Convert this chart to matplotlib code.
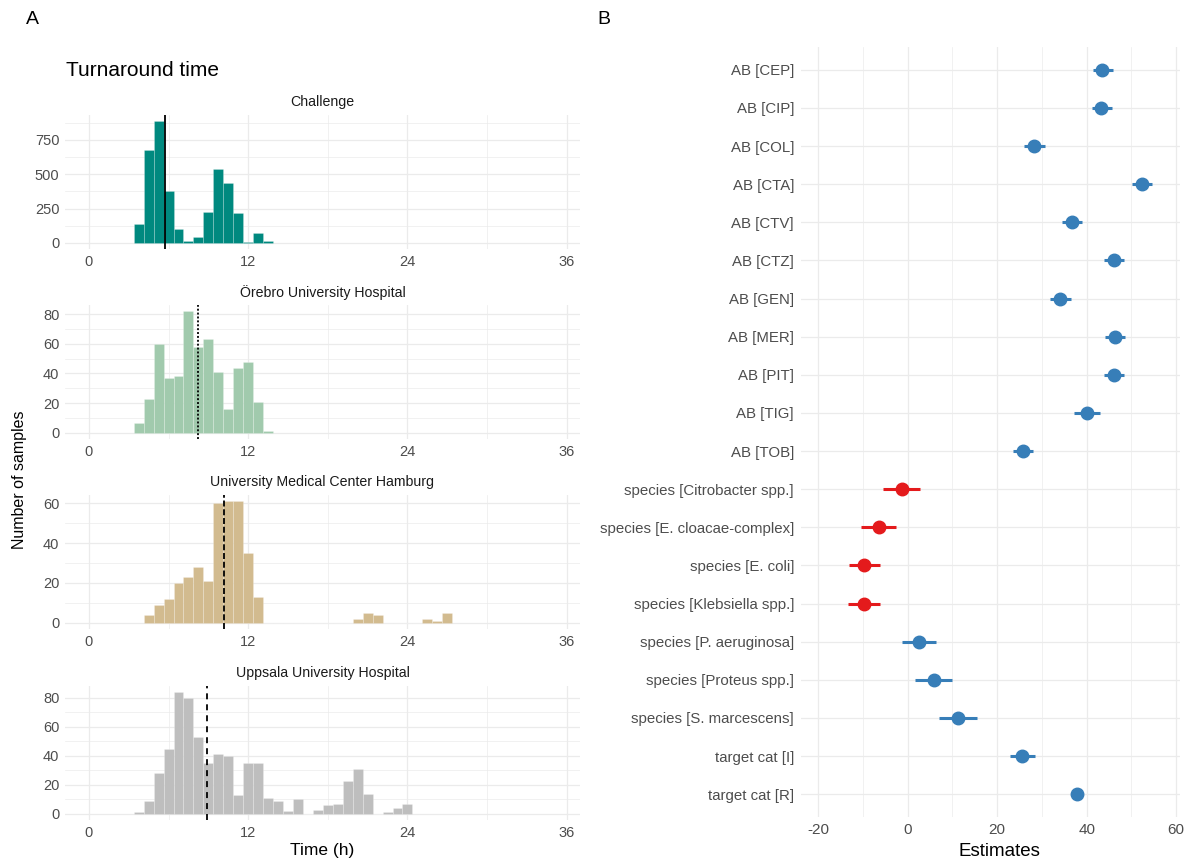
import numpy as np
import matplotlib
matplotlib.use('Agg')
import matplotlib.pyplot as plt

plt.rcParams['font.family'] = ['Liberation Sans', 'DejaVu Sans']
plt.rcParams['lines.scale_dashes'] = False
plt.rcParams['axes.unicode_minus'] = False

# ------------------------------------------------------- Data (panel A)
BIN_W = 0.75
BIN_ORIGIN = 0.375   # bins are centred on multiples of 0.75 h

sites = ['Challenge', 'Örebro University Hospital',
         'University Medical Center Hamburg', 'Uppsala University Hospital']

# first bin index (edge = origin + k * width) and counts per bin
challenge_first = 4
challenge_counts = [135, 674, 887, 375, 98, 15, 44, 223, 539, 439, 221, 7, 69, 12]

orebro_first = 4
orebro_counts = [7, 23, 60, 37, 38, 82, 58, 63, 41, 16, 44, 48, 21, 1]

hamburg_first = 5
hamburg_counts = [4, 9, 12, 20, 23, 28, 21, 60, 61, 61, 35, 13,
                  0, 0, 0, 0, 0, 0, 0, 0, 0, 2, 5, 4,
                  0, 0, 0, 0, 2, 1, 5]

uppsala_first = 4
uppsala_counts = [1, 9, 28, 45, 84, 80, 53, 35, 41, 40, 13, 35, 35, 11, 9, 2, 10,
                  0, 3, 6, 7, 23, 31, 14, 0, 1, 4, 7]

# median turnaround lines
medians = [5.76, 8.23, 10.19, 8.9]

# ------------------------------------------------------- Data (panel B)
terms = ['AB [CEP]', 'AB [CIP]', 'AB [COL]', 'AB [CTA]', 'AB [CTV]', 'AB [CTZ]',
         'AB [GEN]', 'AB [MER]', 'AB [PIT]', 'AB [TIG]', 'AB [TOB]',
         'species [Citrobacter spp.]', 'species [E. cloacae-complex]',
         'species [E. coli]', 'species [Klebsiella spp.]',
         'species [P. aeruginosa]', 'species [Proteus spp.]',
         'species [S. marcescens]', 'target cat [I]', 'target cat [R]']
estimates = [43.5, 43.3, 28.3, 52.3, 36.7, 46.2, 34.1, 46.3, 46.1, 40.0, 25.8,
             -1.3, -6.5, -9.7, -9.8, 2.6, 5.8, 11.3, 25.5, 37.9]
ci_low = [41.4, 41.2, 26.0, 50.1, 34.5, 43.9, 31.8, 44.1, 43.9, 37.1, 23.6,
          -5.6, -10.4, -13.1, -13.3, -1.2, 1.7, 7.1, 22.8, 36.9]
ci_high = [45.9, 45.6, 30.6, 54.6, 38.9, 48.4, 36.4, 48.6, 48.4, 43.0, 28.0,
           2.8, -2.6, -6.2, -6.3, 6.4, 9.9, 15.5, 28.4, 38.9]

# ------------------------------------------------------- Styles
W, H = 1193, 860
GRID = '#EBEBEB'
TICK_COL = '#4D4D4D'
BLUE = '#377EB8'
RED = '#E41A1C'

site_style = [
    {'first': challenge_first, 'counts': challenge_counts, 'color': '#00897F',
     'ls': '-', 'major': [0, 250, 500, 750], 'minor': [125, 375, 625, 875]},
    {'first': orebro_first, 'counts': orebro_counts, 'color': '#A1CAAD',
     'ls': (0, (1.4, 1.4)), 'major': [0, 20, 40, 60, 80], 'minor': [10, 30, 50, 70]},
    {'first': hamburg_first, 'counts': hamburg_counts, 'color': '#D2BB8F',
     'ls': (0, (4.3, 2.0)), 'major': [0, 20, 40, 60], 'minor': [10, 30, 50]},
    {'first': uppsala_first, 'counts': uppsala_counts, 'color': '#BEBEBE',
     'ls': (0, (4.3, 3.6)), 'major': [0, 20, 40, 60, 80], 'minor': [10, 30, 50, 70]},
]


def px_axes(fig, left, top, right, bottom):
    return fig.add_axes([left / W, 1 - bottom / H, (right - left) / W, (bottom - top) / H])


def minimal(ax):
    for s in ax.spines.values():
        s.set_visible(False)
    ax.set_axisbelow(True)
    ax.grid(True, which='major', color=GRID, lw=0.9)
    ax.grid(True, which='minor', color=GRID, lw=0.5)
    ax.tick_params(which='both', length=0, colors=TICK_COL)


fig = plt.figure(figsize=(W / 100, H / 100), dpi=100)

# ------------------------------------------------------- Panel A
tops = [115, 305, 495, 686]
for name, st, top, med in zip(sites, site_style, tops, medians):
    ax = px_axes(fig, 65, top, 580, top + 134)
    minimal(ax)
    counts = np.array(st['counts'])
    edges = BIN_ORIGIN + BIN_W * (st['first'] + np.arange(len(counts)))
    ax.bar(edges, counts, width=BIN_W, align='edge', color=st['color'],
           edgecolor=(1, 1, 1, 0.35), linewidth=0.4)
    ax.axvline(med, color='black', lw=1.3, ls=st['ls'])
    ymax = counts.max()
    ax.set_ylim(-0.05 * ymax, 1.05 * ymax)
    ax.set_xlim(-1.8, 37.0)
    ax.set_xticks([0, 12, 24, 36])
    ax.set_xticks([6, 18, 30], minor=True)
    ax.set_yticks(st['major'])
    ax.set_yticks(st['minor'], minor=True)
    ax.tick_params(labelsize=10.5, pad=4)
    ax.text(0.5, 1.095, name, transform=ax.transAxes, ha='center', va='center',
            fontsize=10.2, color='#1A1A1A')

fig.text(32 / W, 1 - 20 / H, 'A', fontsize=14, ha='center', va='center')
fig.text(66 / W, 1 - 70 / H, 'Turnaround time', fontsize=15, ha='left', va='center')
fig.text(20 / W, 1 - 480 / H, 'Number of samples', fontsize=11.5, rotation=90,
         ha='center', va='center')
fig.text(322 / W, 1 - 851 / H, 'Time (h)', fontsize=12.5, ha='center', va='center')

# ------------------------------------------------------- Panel B
axb = px_axes(fig, 801, 47, 1180, 817)
minimal(axb)
n = len(terms)
ypos = np.arange(n)[::-1] + 1
cols = [RED if e < 0 else BLUE for e in estimates]
for y, e, lo, hi, c in zip(ypos, estimates, ci_low, ci_high, cols):
    axb.plot([lo, hi], [y, y], color=c, lw=2.2, solid_capstyle='butt', zorder=3)
    axb.plot(e, y, 'o', color=c, markersize=9, zorder=4)
axb.set_ylim(0.4, n + 0.6)
axb.set_xlim(-23.85, 60.85)
axb.set_yticks(ypos)
axb.set_yticklabels(terms)
axb.set_xticks([-20, 0, 20, 40, 60])
axb.set_xticks([-10, 10, 30, 50], minor=True)
axb.tick_params(axis='y', labelsize=10.8, pad=5)
axb.tick_params(axis='x', labelsize=11, pad=4)

fig.text(604 / W, 1 - 20 / H, 'B', fontsize=14, ha='center', va='center')
fig.text(999 / W, 1 - 851 / H, 'Estimates', fontsize=13.5, ha='center', va='center')

fig.savefig('out.png', dpi=100)
